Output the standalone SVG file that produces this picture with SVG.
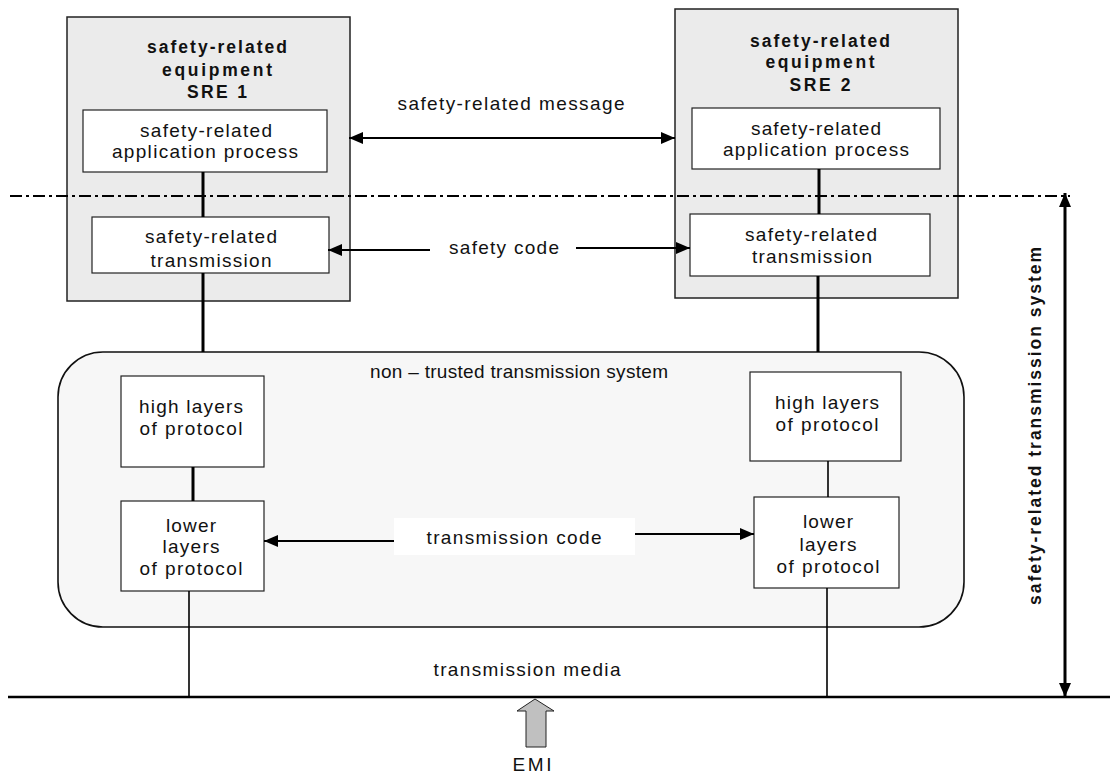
<svg xmlns="http://www.w3.org/2000/svg" width="1110" height="773" viewBox="0 0 1110 773">
<style>
  text { font-family: "Liberation Sans", Arial, sans-serif; fill: #111; }
  .t { font-size: 19px; text-anchor: middle; }
  .b { font-size: 17.5px; font-weight: bold; text-anchor: middle; }
  .sre { fill: #ebebeb; stroke: #222; stroke-width: 1.5; }
  .box { fill: #fff; stroke: #222; stroke-width: 1.2; }
  .thick { stroke: #000; stroke-width: 3; fill: none; }
  .thin { stroke: #000; stroke-width: 1.6; fill: none; }
  .arr { stroke: #000; stroke-width: 2.2; fill: none; }
</style>
<defs>
  <marker id="ah" markerUnits="userSpaceOnUse" markerWidth="16" markerHeight="14" refX="14" refY="6" orient="auto-start-reverse">
    <path d="M0,0 L14,6 L0,12 z" fill="#000"/>
  </marker>
</defs>
<rect width="1110" height="773" fill="#fff"/>

<g id="sre1">
  <rect class="sre" x="67" y="17" width="283" height="284"/>
  <text class="b" x="217" y="53" textLength="140" lengthAdjust="spacing">safety-related</text>
  <text class="b" x="217" y="76" textLength="110" lengthAdjust="spacing">equipment</text>
  <text class="b" x="217" y="98" textLength="60" lengthAdjust="spacing">SRE 1</text>
</g>
<g id="sre1-app">
  <rect class="box" x="83" y="110" width="244" height="62"/>
  <text class="t" x="206" y="137" textLength="132" lengthAdjust="spacing">safety-related</text>
  <text class="t" x="205" y="158" textLength="186" lengthAdjust="spacing">application process</text>
</g>
<g id="sre1-trans">
  <rect class="box" x="92" y="217" width="237" height="56"/>
  <text class="t" x="211" y="243" textLength="132" lengthAdjust="spacing">safety-related</text>
  <text class="t" x="211" y="267" textLength="121" lengthAdjust="spacing">transmission</text>
</g>

<g id="sre2">
  <rect class="sre" x="675" y="9" width="283" height="289"/>
  <text class="b" x="820" y="47" textLength="140" lengthAdjust="spacing">safety-related</text>
  <text class="b" x="820" y="68" textLength="109" lengthAdjust="spacing">equipment</text>
  <text class="b" x="820" y="91" textLength="61" lengthAdjust="spacing">SRE 2</text>
</g>
<g id="sre2-app">
  <rect class="box" x="692" y="108" width="248" height="61"/>
  <text class="t" x="816" y="135" textLength="130" lengthAdjust="spacing">safety-related</text>
  <text class="t" x="816" y="156" textLength="186" lengthAdjust="spacing">application process</text>
</g>
<g id="sre2-trans">
  <rect class="box" x="690" y="214" width="240" height="62"/>
  <text class="t" x="811" y="241" textLength="132" lengthAdjust="spacing">safety-related</text>
  <text class="t" x="812" y="263" textLength="120" lengthAdjust="spacing">transmission</text>
</g>

<g id="nontrusted">
  <rect x="58" y="352" width="906" height="275" rx="45" ry="45" fill="#f7f7f7" stroke="#111" stroke-width="1.6"/>
  <text class="t" x="519" y="378" font-size="18" textLength="298" lengthAdjust="spacing">non – trusted transmission system</text>
</g>
<g id="high-left">
  <rect class="box" x="121" y="376" width="143" height="91"/>
  <text class="t" x="191" y="413" textLength="104" lengthAdjust="spacing">high layers</text>
  <text class="t" x="191" y="435" textLength="103" lengthAdjust="spacing">of protocol</text>
</g>
<g id="lower-left">
  <rect class="box" x="121" y="501" width="143" height="90"/>
  <text class="t" x="191" y="532" textLength="50" lengthAdjust="spacing">lower</text>
  <text class="t" x="191" y="553" textLength="57" lengthAdjust="spacing">layers</text>
  <text class="t" x="191" y="575" textLength="103" lengthAdjust="spacing">of protocol</text>
</g>
<g id="high-right">
  <rect class="box" x="750" y="372" width="151" height="89"/>
  <text class="t" x="827" y="409" textLength="104" lengthAdjust="spacing">high layers</text>
  <text class="t" x="827" y="431" textLength="103" lengthAdjust="spacing">of protocol</text>
</g>
<g id="lower-right">
  <rect class="box" x="754" y="497" width="145" height="91"/>
  <text class="t" x="828" y="528" textLength="50" lengthAdjust="spacing">lower</text>
  <text class="t" x="828" y="551" textLength="57" lengthAdjust="spacing">layers</text>
  <text class="t" x="828" y="573" textLength="103" lengthAdjust="spacing">of protocol</text>
</g>

<g id="connectors">
  <line x1="10" y1="196" x2="1070" y2="196" stroke="#000" stroke-width="2" stroke-dasharray="12 4 3 4"/>
  <line x1="8" y1="697" x2="1110" y2="697" stroke="#000" stroke-width="2.5"/>
  <line class="thick" x1="203" y1="172" x2="203" y2="217"/>
  <line class="thick" x1="203" y1="273" x2="203" y2="352"/>
  <line class="thick" x1="819" y1="169" x2="819" y2="214"/>
  <line class="thick" x1="818" y1="276" x2="818" y2="352"/>
  <line class="thick" x1="193" y1="467" x2="193" y2="501"/>
  <line class="thin" x1="189" y1="591" x2="189" y2="697"/>
  <line class="thin" x1="828" y1="461" x2="828" y2="497"/>
  <line class="thin" x1="827" y1="588" x2="827" y2="697"/>
  <line class="arr" x1="349" y1="138" x2="675" y2="138" marker-start="url(#ah)" marker-end="url(#ah)"/>
  <line class="arr" x1="430" y1="250" x2="328" y2="250" marker-end="url(#ah)"/>
  <line class="arr" x1="576" y1="248" x2="690" y2="248" marker-end="url(#ah)"/>
  <rect x="394" y="518" width="241" height="37" fill="#fff"/>
  <line class="arr" x1="394" y1="541" x2="264" y2="541" marker-end="url(#ah)"/>
  <line class="arr" x1="635" y1="534" x2="754" y2="534" marker-end="url(#ah)"/>
  <line x1="1065" y1="193" x2="1065" y2="697" stroke="#000" stroke-width="3" marker-start="url(#ah)" marker-end="url(#ah)"/>
  <polygon points="535,699 517,711 526,711 526,747 546,747 546,711 554,711" fill="#c0c0c0" stroke="#222" stroke-width="1"/>
</g>

<g id="labels">
  <text class="t" x="511" y="110" textLength="227" lengthAdjust="spacing">safety-related message</text>
  <text class="t" x="504" y="254" textLength="110" lengthAdjust="spacing">safety code</text>
  <text class="t" x="514" y="544" textLength="175" lengthAdjust="spacing">transmission code</text>
  <text class="t" x="527" y="676" textLength="187" lengthAdjust="spacing">transmission media</text>
  <text class="t" x="532" y="771" textLength="39" lengthAdjust="spacing">EMI</text>
  <text class="b" transform="translate(1041,426) rotate(-90)" font-size="16.5" textLength="358" lengthAdjust="spacing">safety-related transmission system</text>
</g>
</svg>
